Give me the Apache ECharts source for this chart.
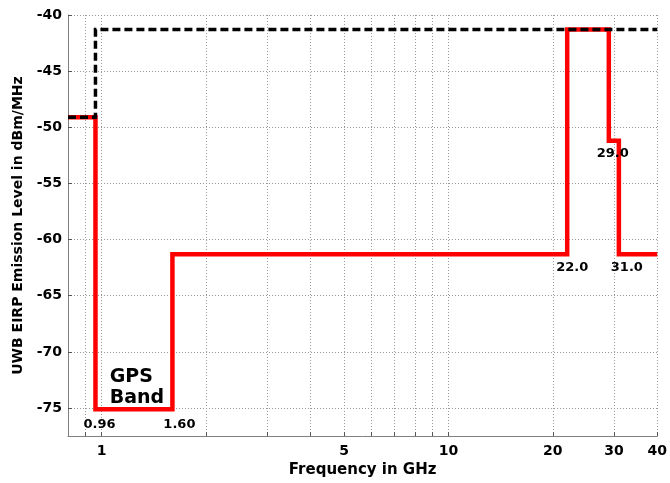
<!DOCTYPE html>
<html>
<head>
<meta charset="utf-8">
<script src="https://cdn.jsdelivr.net/npm/echarts@6/dist/echarts.min.js"></script>
<style>html,body{margin:0;padding:0;background:#fff}#c{width:670px;height:483px}</style>
</head>
<body>
<div id="c"></div>
<script>
// ---- data ----
var limitFreq  = [0.8, 0.96, 40];          // GHz, start of each step (black dashed)
var limitLevel = [-49.1, -41.3, -41.3];    // dBm/MHz

var maskFreq  = [0.8, 0.96, 1.6, 22, 29, 31, 40];               // GHz (red)
var maskLevel = [-49.1, -75.1, -61.3, -41.3, -51.2, -61.3, -61.3];

var xTickValues  = [0.9, 1, 2, 3, 4, 5, 6, 7, 8, 9, 10, 20, 30, 40];
var xLabelValues = [1, 5, 10, 20, 30, 40];
var yTickValues  = [-75, -70, -65, -60, -55, -50, -45, -40];

var annFreq  = [0.96, 1.6, 22, 29, 31, 1.055];
var annLevel = [-75.1, -75.1, -61.3, -51.2, -61.3, -73.2];
var annText  = ['0.96', '1.60', '22.0', '29.0', '31.0', 'GPS\nBand'];

// ---- styling (not data) ----
var annStyle = [
  {offset: [4, 16], align: 'center', size: 13},
  {offset: [7, 16], align: 'center', size: 13},
  {offset: [5, 14], align: 'center', size: 13},
  {offset: [4, 13], align: 'center', size: 13},
  {offset: [8, 14], align: 'center', size: 13},
  {offset: [0, 0], align: 'left', size: 19}
];

function pairs(xs, ys) { return xs.map(function (x, i) { return [x, ys[i]]; }); }

var FONT = 'DejaVu Sans';
var chart = echarts.init(document.getElementById('c'), null, {renderer: 'canvas'});

chart.setOption({
  animation: false,
  backgroundColor: '#fff',
  grid: {left: 68, right: 12, top: 15, bottom: 44, containLabel: false},
  xAxis: {
    type: 'log', logBase: 10, min: 0.8, max: 40,
    name: 'Frequency in GHz', nameLocation: 'middle', nameGap: 25,
    nameTextStyle: {fontFamily: FONT, fontWeight: 'bold', fontSize: 15, color: '#000', verticalAlign: 'top'},
    axisLine: {show: true, lineStyle: {color: '#808080', width: 1}},
    axisTick: {show: true, inside: true, length: 4, customValues: xTickValues, lineStyle: {color: '#555'}},
    axisLabel: {customValues: xLabelValues, margin: 8, fontFamily: FONT, fontWeight: 'bold', fontSize: 14, color: '#000'},
    splitLine: {show: true, lineStyle: {type: [1, 2], color: '#999', width: 1}},
    minorTick: {show: false}
  },
  yAxis: {
    type: 'value', min: -77.5, max: -40,
    name: 'UWB EIRP Emission Level in dBm/MHz', nameLocation: 'middle', nameGap: 37,
    nameTextStyle: {fontFamily: FONT, fontWeight: 'bold', fontSize: 14, color: '#000'},
    axisLine: {show: true, lineStyle: {color: '#808080', width: 1}},
    axisTick: {show: true, inside: true, length: 4, customValues: yTickValues, lineStyle: {color: '#555'}},
    axisLabel: {customValues: yTickValues, margin: 6, fontFamily: FONT, fontWeight: 'bold', fontSize: 14, color: '#000'},
    splitLine: {show: true, lineStyle: {type: [1, 2], color: '#999', width: 1}}
  },
  series: [
    {
      type: 'line', step: 'end', data: pairs(maskFreq, maskLevel),
      showSymbol: false, symbol: 'none', z: 3,
      lineStyle: {color: '#ff0000', width: 4.5, join: 'miter', cap: 'butt'}
    },
    {
      type: 'line', step: 'end', data: pairs(limitFreq, limitLevel),
      showSymbol: false, symbol: 'none', z: 4,
      lineStyle: {color: '#000', width: 3.5, type: [8, 4], join: 'miter'}
    },
    {
      type: 'scatter', z: 5, symbolSize: 1, silent: true,
      itemStyle: {color: '#000', opacity: 0},
      emphasis: {disabled: true},
      data: annFreq.map(function (f, i) {
        var s = annStyle[i];
        return {
          value: [f, annLevel[i]],
          label: {
            show: true, formatter: annText[i], position: 'top', distance: 0,
            offset: s.offset, align: s.align, verticalAlign: 'middle',
            fontFamily: FONT, fontWeight: 'bold', fontSize: s.size,
            lineHeight: s.size + 2, color: '#000', opacity: 1
          }
        };
      })
    }
  ]
});
</script>
</body>
</html>
